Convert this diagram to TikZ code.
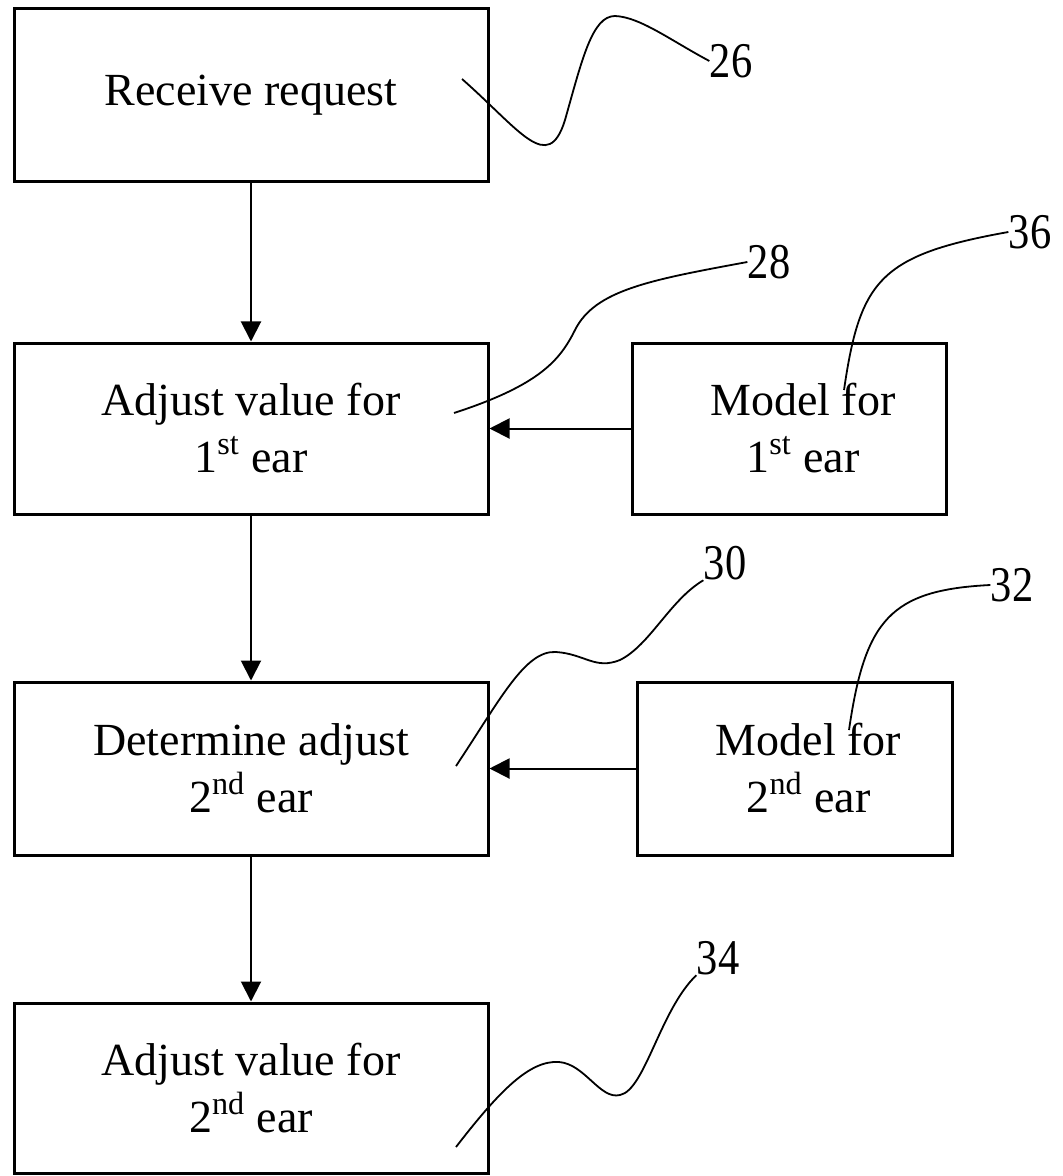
\documentclass[tikz,border=0pt]{standalone}
\usepackage{fontspec}
\setmainfont{Liberation Serif}
\newfontfamily\labfont[FakeStretch=0.85]{Liberation Serif}
\usetikzlibrary{arrows.meta}
\begin{document}
\begin{tikzpicture}[x=0.5pt,y=-0.5pt,
  box/.style={draw=black,line width=1.5pt,align=center,inner sep=0pt,
    font=\fontsize{23}{28.5}\selectfont},
  flow/.style={draw=black,line width=1pt,-{Triangle[length=10pt,width=10pt]}},
  lead/.style={draw=black,line width=0.9pt},
  ref/.style={font=\labfont\fontsize{25}{25}\selectfont,inner sep=0pt}]
\useasboundingbox (0,0) rectangle (1063,1176);
% boxes
\node[box,minimum width=237pt,minimum height=86.5pt] (b1) at (251,95.5) {Receive request};
\node[box,minimum width=237pt,minimum height=85.5pt] (b2) at (251,428.5) {Adjust value for\\1\textsuperscript{st} ear};
\node[box,minimum width=157pt,minimum height=85.5pt] (m1) at (789,428.5) {\hspace*{14pt}Model for\\\hspace*{14pt}1\textsuperscript{st} ear};
\node[box,minimum width=237pt,minimum height=86.5pt] (b3) at (251,768.5) {Determine adjust\\2\textsuperscript{nd} ear};
\node[box,minimum width=157.5pt,minimum height=86.5pt] (m2) at (794.5,768.5) {\hspace*{14pt}Model for\\\hspace*{14pt}2\textsuperscript{nd} ear};
\node[box,minimum width=237pt,minimum height=85pt] (b4) at (251,1088) {Adjust value for\\2\textsuperscript{nd} ear};
% flow arrows
\draw[flow] (b1) -- (b2);
\draw[flow] (b2) -- (b3);
\draw[flow] (b3) -- (b4);
\draw[flow] (m1) -- (b2);
\draw[flow] (m2) -- (b3);
% reference labels
\node[ref] (r26) at (731,61) {26};
\node[ref] (r28) at (769,262) {28};
\node[ref] (r36) at (1030,232) {36};
\node[ref] (r30) at (725,563) {30};
\node[ref] (r32) at (1012,585) {32};
\node[ref] (r34) at (718,958) {34};
% lead line starts
\coordinate (s26) at (462,79);
\coordinate (s28) at (454,413);
\coordinate (s36) at (844,390);
\coordinate (s30) at (456,766);
\coordinate (s32) at (849,730);
\coordinate (s34) at (456,1147);
% lead lines
\draw[lead] (s26) .. controls (520,130) and (548,175) .. (565,120)
  .. controls (582,60) and (592,16) .. (615,16)
  .. controls (640,17) and (670,40) .. (r26.west);
\draw[lead] (s28) .. controls (540,385) and (560,360) .. (575,330)
  .. controls (595,290) and (650,280) .. (r28.west);
\draw[lead] (s36) .. controls (860,280) and (880,255) .. (r36.west);
\draw[lead] (s30) .. controls (500,700) and (525,650) .. (556,652)
  .. controls (585,654) and (595,670) .. (620,660)
  .. controls (650,645) and (670,600) .. (r30.south west);
\draw[lead] (s32) .. controls (865,620) and (890,590) .. (r32.west);
\draw[lead] (s34) .. controls (500,1090) and (530,1060) .. (559,1062)
  .. controls (585,1064) and (600,1100) .. (620,1095)
  .. controls (645,1090) and (660,1010) .. (r34.south west);
\end{tikzpicture}
\end{document}
